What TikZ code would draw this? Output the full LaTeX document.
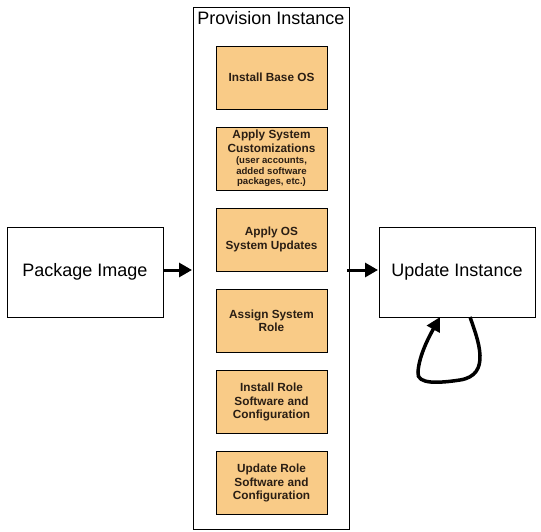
\documentclass[tikz,border=0pt]{standalone}
\usepackage{fontspec}
\setmainfont{Liberation Sans}
\usetikzlibrary{arrows.meta}
\definecolor{boxfill}{HTML}{F9CB87}
\definecolor{txt}{HTML}{2A1E14}
\begin{document}
\begin{tikzpicture}[x=1pt,y=-1pt,
  bigbox/.style={draw=black,line width=1pt,fill=white,inner sep=0pt},
  bigtext/.style={font=\fontsize{18}{20}\selectfont},
  stepbox/.style={draw=black,line width=0.9pt,fill=boxfill,minimum width=111pt,minimum height=63pt,inner sep=1pt,align=center,text=txt,font=\bfseries\fontsize{11.8}{13.5}\selectfont},
  conn/.style={line width=3pt,-{Triangle[length=13pt,width=14pt]}}]
\useasboundingbox (0,0) rectangle (541,532);
\node[bigbox,minimum width=156pt,minimum height=90pt] (pkg) at (85,272) {};
\node[bigtext] at (pkg.center) {Package Image};
\node[bigbox,minimum width=156pt,minimum height=521pt] (prov) at (271,268.5) {};
\node[bigtext,anchor=north] (provt) at (271,8) {Provision Instance};
\node[bigbox,minimum width=156pt,minimum height=90pt] (upd) at (457,272) {};
\node[bigtext] at (upd.center) {Update Instance};
\node[stepbox] (s1) at (271.5,77.5) {Install Base OS};
\node[stepbox] (s2) at (271.5,158.5) {Apply System\\Customizations\\[-2pt]{\fontsize{9.6}{10.5}\selectfont (user accounts,}\\[-3pt]{\fontsize{9.6}{10.5}\selectfont added software}\\[-3pt]{\fontsize{9.6}{10.5}\selectfont packages, etc.)}};
\node[stepbox] (s3) at (271.5,239.5) {Apply OS\\System Updates};
\node[stepbox] (s4) at (271.5,321) {Assign System\\Role};
\node[stepbox] (s5) at (271.5,402) {Install Role\\Software and\\Configuration};
\node[stepbox] (s6) at (271.5,483) {Update Role\\Software and\\Configuration};
\coordinate (a1) at (pkg.east|-0,270);
\coordinate (a2) at (192,270);
\draw[conn] (a1) -- (a2);
\coordinate (b1) at (347,270);
\coordinate (b2) at (378,270);
\draw[conn] (b1) -- (b2);
\coordinate (l1) at (470,317);
\coordinate (l2) at (440,317);
\draw[line width=3.5pt,-{Triangle[length=14pt,width=14pt]}] (l1) .. controls (478,340) and (492,375) .. (460,380)
  .. controls (440,383) and (416,385) .. (418,372)
  .. controls (419,355) and (430,335) .. (l2);
\end{tikzpicture}
\end{document}
